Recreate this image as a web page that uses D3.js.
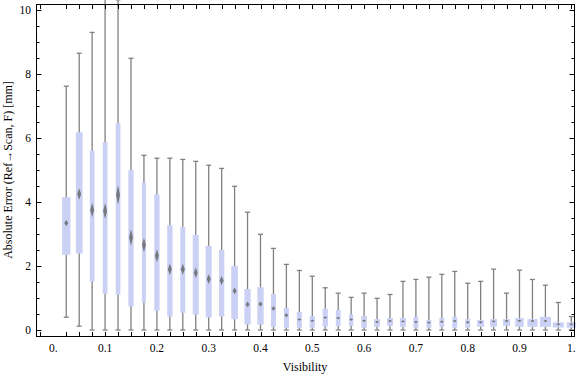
<!DOCTYPE html>
<html>
<head>
<meta charset="utf-8">
<script src="https://cdnjs.cloudflare.com/ajax/libs/d3/7.8.5/d3.min.js"></script>
<style>
  body { margin: 0; background: #fff; }
  svg { display: block; }
  text { font-family: "Liberation Serif", "DejaVu Serif", serif; }
</style>
</head>
<body>
<div id="chart"></div>
<script>
// visibility bins
var visibility = [0.025, 0.05, 0.075, 0.1, 0.125, 0.15, 0.175, 0.2, 0.225, 0.25,
                  0.275, 0.3, 0.325, 0.35, 0.375, 0.4, 0.425, 0.45, 0.475, 0.5,
                  0.525, 0.55, 0.575, 0.6, 0.625, 0.65, 0.675, 0.7, 0.725, 0.75,
                  0.775, 0.8, 0.825, 0.85, 0.875, 0.9, 0.925, 0.95, 0.975, 1.0];

var whiskerLow = [0.40, 0.12, 0, 0, 0, 0, 0, 0, 0, 0,
                  0, 0, 0, 0, 0, 0, 0, 0, 0, 0,
                  0, 0, 0, 0, 0, 0, 0, 0, 0, 0,
                  0, 0, 0, 0, 0, 0, 0, 0, 0, 0];
var q1 = [2.35, 2.39, 1.51, 1.13, 1.10, 0.74, 0.85, 0.60, 0.42, 0.54,
          0.48, 0.39, 0.42, 0.34, 0.17, 0.17, 0.09, 0.06, 0.06, 0.07,
          0.10, 0.125, 0.13, 0.07, 0.10, 0.13, 0.10, 0.07, 0.07, 0.10,
          0.07, 0.07, 0.10, 0.10, 0.13, 0.10, 0.10, 0.10, 0.08, 0.07];
var median = [3.34, 4.25, 3.75, 3.72, 4.22, 2.89, 2.66, 2.32, 1.90, 1.90,
              1.79, 1.59, 1.55, 1.22, 0.80, 0.81, 0.67, 0.46, 0.33, 0.29,
              0.39, 0.375, 0.33, 0.29, 0.25, 0.28, 0.27, 0.25, 0.23, 0.26,
              0.28, 0.24, 0.24, 0.27, 0.28, 0.29, 0.28, 0.28, 0.18, 0.18];
var q3 = [4.15, 6.18, 5.61, 5.87, 6.46, 5.00, 4.61, 4.24, 3.28, 3.22,
          2.97, 2.63, 2.50, 2.00, 1.28, 1.34, 1.125, 0.69, 0.56, 0.43,
          0.66, 0.625, 0.49, 0.44, 0.34, 0.375, 0.375, 0.41, 0.31, 0.375,
          0.41, 0.34, 0.31, 0.34, 0.34, 0.375, 0.34, 0.41, 0.24, 0.24];
var whiskerHigh = [7.62, 8.65, 9.30, 10.6, 10.32, 8.49, 5.46, 5.37, 5.37, 5.33,
                   5.27, 5.15, 5.05, 4.49, 3.68, 2.99, 2.55, 2.05, 1.86, 1.68,
                   1.32, 1.15, 1.02, 1.15, 0.99, 1.11, 1.52, 1.58, 1.65, 1.74,
                   1.83, 1.46, 1.52, 1.90, 1.15, 1.87, 1.58, 1.40, 0.86, 0.42];
// spread of the median marker (mm)
var medianSpread = [0.19, 0.36, 0.45, 0.50, 0.60, 0.52, 0.44, 0.41, 0.36, 0.34,
                    0.33, 0.30, 0.28, 0.21, 0.18, 0.16, 0.14, 0.12, 0.08, 0.07,
                    0.06, 0.06, 0.05, 0.05, 0.05, 0.05, 0.04, 0.04, 0.04, 0.04,
                    0.04, 0.04, 0.04, 0.04, 0.04, 0.04, 0.04, 0.04, 0.03, 0.03];
// relative box weight
var boxWeight = [0.83, 0.67, 0.47, 0.47, 0.47, 0.53, 0.40, 0.53, 0.53, 0.50,
                 0.60, 0.60, 0.53, 0.67, 0.63, 0.63, 0.50, 0.50, 0.50, 0.53,
                 0.53, 0.47, 0.43, 0.57, 0.60, 0.60, 0.60, 0.50, 0.50, 0.50,
                 0.50, 0.50, 0.70, 0.70, 0.70, 0.83, 1.00, 1.10, 1.10, 0.90];

var xTickValues = [0, 0.1, 0.2, 0.3, 0.4, 0.5, 0.6, 0.7, 0.8, 0.9, 1.0];
var xTickLabels = ["0.", "0.1", "0.2", "0.3", "0.4", "0.5", "0.6", "0.7", "0.8", "0.9", "1."];
var yTickValues = [0, 2, 4, 6, 8, 10];

var width = 576, height = 377;
var frame = {left: 36.5, right: 574.5, top: 4.5, bottom: 336.5};

var x = d3.scaleLinear().domain([0, 1]).range([53.3, 571.3]);
var y = d3.scaleLinear().domain([0, 10]).range([330, 10]);
var w = d3.scaleLinear().domain([0, 1]).range([0, 10]);

var svg = d3.select('#chart').append('svg')
    .attr('width', width).attr('height', height);

var defs = svg.append('defs');
defs.append('filter').attr('id', 'soft')
    .attr('x', '-50%').attr('y', '-50%').attr('width', '200%').attr('height', '200%')
  .append('feGaussianBlur').attr('stdDeviation', 0.6);

var data = visibility.map(function(v, i) {
  return {v: v, lo: whiskerLow[i], q1: q1[i], med: median[i], q3: q3[i],
          hi: whiskerHigh[i], spread: medianSpread[i], wt: boxWeight[i]};
});

// whiskers
var g = svg.append('g');
g.selectAll('line.whisker')
    .data(data)
    .enter().append('line')
    .attr('class', 'whisker')
    .attr('x1', function(d) { return x(d.v); })
    .attr('x2', function(d) { return x(d.v); })
    .attr('y1', function(d) { return y(d.lo); })
    .attr('y2', function(d) { return y(d.hi); })
    .attr('stroke', '#808080')
    .attr('stroke-width', 1.3);

['lo', 'hi'].forEach(function(k) {
  g.selectAll('line.cap-' + k)
      .data(data)
      .enter().append('line')
      .attr('class', 'cap-' + k)
      .attr('x1', function(d) { return x(d.v) - 2.5; })
      .attr('x2', function(d) { return x(d.v) + 2.5; })
      .attr('y1', function(d) { return y(d[k]); })
      .attr('y2', function(d) { return y(d[k]); })
      .attr('stroke', '#808080')
      .attr('stroke-width', 1.3);
});

// boxes
g.selectAll('rect.box')
    .data(data)
    .enter().append('rect')
    .attr('class', 'box')
    .attr('x', function(d) { return x(d.v) - w(d.wt) / 2; })
    .attr('width', function(d) { return w(d.wt); })
    .attr('y', function(d) { return y(d.q3); })
    .attr('height', function(d) { return y(d.q1) - y(d.q3); })
    .attr('fill', '#cad1f5');

// median diamonds
g.selectAll('path.med')
    .data(data)
    .enter().append('path')
    .attr('class', 'med')
    .attr('d', function(d) {
      var cx = x(d.v), cy = y(d.med);
      var hh = Math.max(1.2, (y(0) - y(d.spread)) / 2);
      var hw = 2;
      return 'M' + cx + ',' + (cy - hh) + 'L' + (cx + hw) + ',' + cy +
             'L' + cx + ',' + (cy + hh) + 'L' + (cx - hw) + ',' + cy + 'Z';
    })
    .attr('fill', '#6a6a6a')
    .attr('opacity', 0.85)
    .attr('filter', 'url(#soft)');

// frame
svg.append('rect')
    .attr('x', frame.left).attr('y', frame.top)
    .attr('width', frame.right - frame.left)
    .attr('height', frame.bottom - frame.top)
    .attr('fill', 'none').attr('stroke', '#000').attr('stroke-width', 1);

// x ticks at every bin (bottom + top), plus one before zero
var ticks = [-0.025].concat(visibility);
var axes = svg.append('g').attr('stroke', '#000').attr('stroke-width', 1);
ticks.forEach(function(t) {
  var px = Math.round(x(t)) + 0.5;
  axes.append('line').attr('x1', px).attr('x2', px)
      .attr('y1', frame.bottom).attr('y2', frame.bottom - 4.5);
  axes.append('line').attr('x1', px).attr('x2', px)
      .attr('y1', frame.top).attr('y2', frame.top + 4.5);
});

// y ticks, majors every 2 and minors every 0.5
d3.range(0, 10.01, 0.5).forEach(function(t) {
  var py = Math.round(y(t)) + 0.5;
  var len = (t % 2 === 0) ? 5 : 3;
  axes.append('line').attr('x1', frame.left).attr('x2', frame.left + len)
      .attr('y1', py).attr('y2', py);
  axes.append('line').attr('x1', frame.right).attr('x2', frame.right - len)
      .attr('y1', py).attr('y2', py);
});

// tick labels
svg.append('g').selectAll('text')
    .data(xTickValues)
    .enter().append('text')
    .attr('x', function(d) { return x(d); })
    .attr('y', 352)
    .attr('text-anchor', 'middle')
    .attr('font-size', 11.5)
    .text(function(d, i) { return xTickLabels[i]; });

svg.append('g').selectAll('text')
    .data(yTickValues)
    .enter().append('text')
    .attr('x', 31)
    .attr('y', function(d) { return y(d) + 4; })
    .attr('text-anchor', 'end')
    .attr('font-size', 11.5)
    .text(function(d) { return d; });

// axis titles
svg.append('text')
    .attr('x', 305).attr('y', 371)
    .attr('text-anchor', 'middle')
    .attr('font-size', 12)
    .text('Visibility');

svg.append('text')
    .attr('transform', 'translate(12,170) rotate(-90)')
    .attr('text-anchor', 'middle')
    .attr('font-size', 12)
    .text('Absolute Error (Ref\u2192Scan, F) [mm]');
</script>
</body>
</html>
